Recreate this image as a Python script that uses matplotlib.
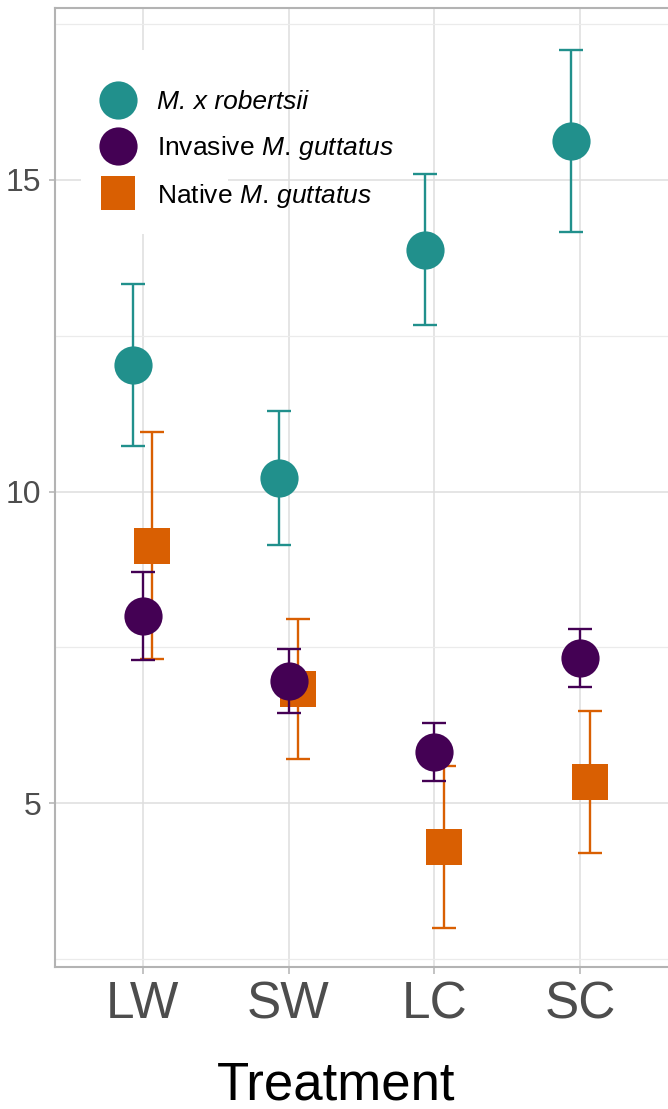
import matplotlib
matplotlib.use("Agg")
import matplotlib.pyplot as plt
from matplotlib.lines import Line2D
from matplotlib.patches import Rectangle
import numpy as np

plt.rcParams["font.family"] = ["Liberation Sans", "DejaVu Sans"]
plt.rcParams["mathtext.fontset"] = "custom"
plt.rcParams["mathtext.rm"] = "Liberation Sans"
plt.rcParams["mathtext.it"] = "Liberation Sans:italic"

treatments = ["LW", "SW", "LC", "SC"]

groups = ["M. x robertsii", "Invasive M. guttatus", "Native M. guttatus"]
legend_labels = ["M. x robertsii",
                 r"Invasive $\mathit{M.\,guttatus}$",
                 r"Native $\mathit{M.\,guttatus}$"]

robertsii_mean = [12.03, 10.22, 13.88, 15.63]
robertsii_err = [1.30, 1.08, 1.21, 1.46]

invasive_mean = [8.00, 6.96, 5.82, 7.33]
invasive_err = [0.71, 0.51, 0.47, 0.47]

native_mean = [9.13, 6.83, 4.29, 5.34]
native_err = [1.82, 1.13, 1.30, 1.14]

colors = {"robertsii": "#21908C", "invasive": "#440154", "native": "#D95F02"}

fig = plt.figure(figsize=(6.68, 11.09), dpi=100)
W, H = 668, 1109
left, right, top, bottom = 55, 668, 8, 967
ax = fig.add_axes([left / W, (H - bottom) / H, (right - left) / W, (bottom - top) / H])

x = np.arange(1, len(treatments) + 1)
dodge = 0.067

series = [
    ("robertsii", robertsii_mean, robertsii_err, -dodge, "o", 27.5, 3),
    ("native", native_mean, native_err, dodge, "s", 26, 4),
    ("invasive", invasive_mean, invasive_err, 0.0, "o", 27.5, 5),
]
for key, mean, err, off, marker, ms, z in series:
    c = colors[key]
    ax.errorbar(x + off, mean, yerr=err, fmt="none", ecolor=c,
                elinewidth=1.7, capsize=8.6, capthick=1.7, zorder=z)
    ax.plot(x + off, mean, linestyle="none", marker=marker, markersize=ms,
            color=c, markeredgewidth=0, zorder=z + 0.5)

ax.set_xlim(0.4, 4.6)
ax.set_ylim(2.37, 17.76)
ax.set_xticks(x)
ax.set_xticklabels(treatments)
ax.set_yticks([5, 10, 15])
ax.set_yticks([2.5, 7.5, 12.5, 17.5], minor=True)

ax.grid(True, which="major", color="#DEDEDE", linewidth=1.1, zorder=0)
ax.grid(True, which="minor", color="#EBEBEB", linewidth=0.9, zorder=0)
ax.set_axisbelow(True)
ax.tick_params(axis="both", which="minor", length=0)
ax.tick_params(axis="x", which="major", length=5, width=1.1, color="#B3B3B3",
               labelsize=37, labelcolor="#4D4D4D", pad=4.5)
ax.tick_params(axis="y", which="major", length=4.5, width=1.1, color="#B3B3B3",
               labelsize=23, labelcolor="#4D4D4D", pad=5.5)

for s in ["left", "top", "bottom"]:
    ax.spines[s].set_color("#B3B3B3")
    ax.spines[s].set_linewidth(1.5)
ax.spines["right"].set_visible(False)

ax.set_xlabel("Treatment", fontsize=38, color="black")
ax.xaxis.set_label_coords((336 - left) / (right - left), (bottom - 1100) / (bottom - top))
ax.xaxis.label.set_va("baseline")

# white backing behind the legend keys
ax.add_patch(Rectangle(((81 - left) / (right - left), (bottom - 234) / (bottom - top)),
                       (228 - 81) / (right - left), (234 - 50) / (bottom - top),
                       transform=ax.transAxes, facecolor="white", edgecolor="none",
                       zorder=1))

handles = [
    Line2D([], [], linestyle="none", marker="o", markersize=27.5, color=colors["robertsii"], markeredgewidth=0),
    Line2D([], [], linestyle="none", marker="o", markersize=27.5, color=colors["invasive"], markeredgewidth=0),
    Line2D([], [], linestyle="none", marker="s", markersize=24.5, color=colors["native"], markeredgewidth=0),
]
leg = ax.legend(handles, legend_labels, loc="upper left",
                bbox_to_anchor=((99 - left) / (right - left), (bottom - 90) / (bottom - top)),
                frameon=False, fontsize=19, borderaxespad=0, borderpad=0,
                handlelength=1.45, handletextpad=0.75, labelspacing=0.75)
leg.get_texts()[0].set_fontstyle("italic")
leg.set_zorder(10)

fig.savefig("out.png", dpi=100)
